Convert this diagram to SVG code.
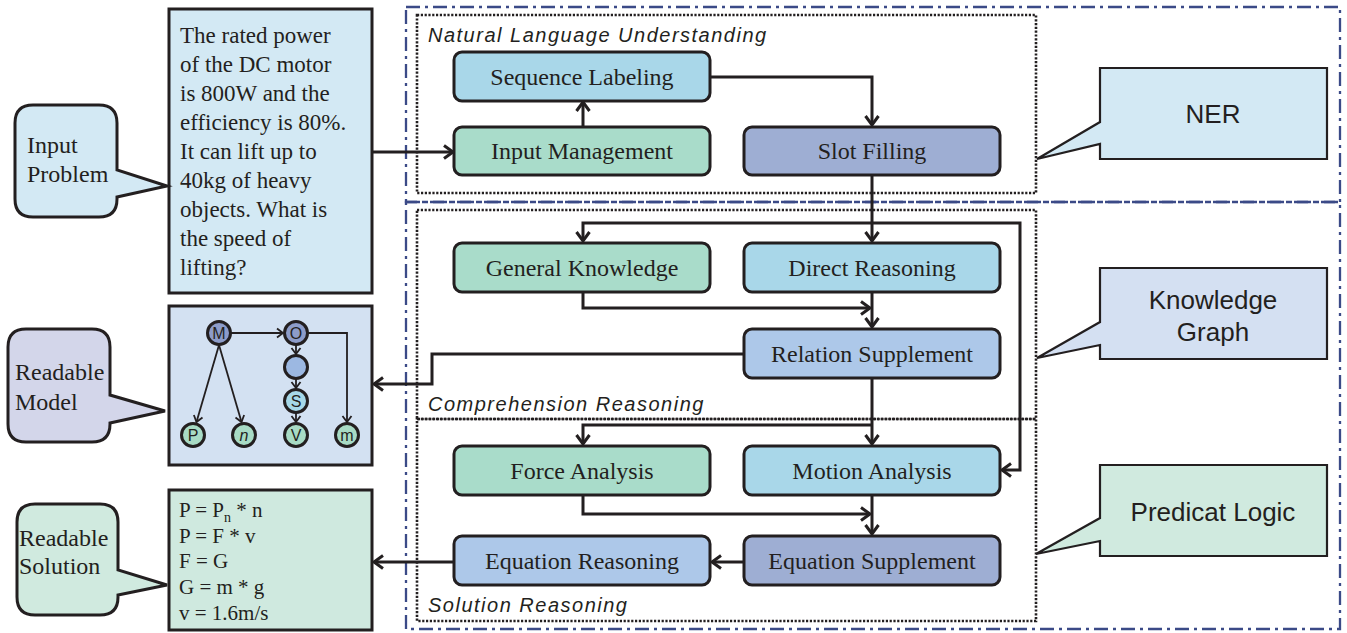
<svg xmlns="http://www.w3.org/2000/svg" width="1347" height="633" viewBox="0 0 1347 633">
<style>
.node rect{stroke:#231f20;stroke-width:3}
.nt{font-family:"Liberation Serif",serif;font-size:24px;fill:#231f20;text-anchor:middle}
.ser{font-family:"Liberation Serif",serif;fill:#231f20}
.lbl{font-family:"Liberation Sans",sans-serif;font-style:italic;font-size:20px;letter-spacing:1.5px;fill:#231f20}
.rc{font-family:"Liberation Sans",sans-serif;font-size:26px;fill:#231f20;text-anchor:middle}
.co{stroke:#231f20;stroke-width:3}
.cor{stroke:#231f20;stroke-width:2.2}
.con path{fill:none;stroke:#231f20;stroke-width:3;marker-end:url(#arr)}
.g line,.g path{fill:none;stroke:#231f20;stroke-width:1.8}
.g circle{stroke:#231f20;stroke-width:3}
.gt{font-family:"Liberation Sans",sans-serif;font-size:16px;fill:#231f20;text-anchor:middle}
.green{fill:#a9dcca}.lblue{fill:#a9d7e9}.slate{fill:#9eaed3}.peri{fill:#adc8e9}
</style>
<defs>
<marker id="arr" markerUnits="userSpaceOnUse" viewBox="-12 -8 14 16" refX="0" refY="0" markerWidth="14" markerHeight="16" orient="auto" overflow="visible"><path d="M-9,-6.5 L0,0 L-9,6.5" fill="none" stroke="#231f20" stroke-width="3"/></marker>
<marker id="sarr" markerUnits="userSpaceOnUse" viewBox="-8 -6 10 12" refX="0" refY="0" markerWidth="10" markerHeight="12" orient="auto" overflow="visible"><path d="M-6,-4.5 L0,0 L-6,4.5" fill="none" stroke="#231f20" stroke-width="1.8"/></marker>
</defs>
<rect width="1347" height="633" fill="#fff"/>

<!-- section frames -->
<g id="frames" fill="none">
<rect x="406" y="7" width="934" height="195" stroke="#3b4a87" stroke-width="2.3" stroke-dasharray="14,5,3,5"/>
<rect x="406" y="202" width="934" height="427" stroke="#3b4a87" stroke-width="2.3" stroke-dasharray="14,5,3,5"/>
<rect x="417" y="15" width="619" height="178" stroke="#231f20" stroke-width="2.6" stroke-dasharray="2.2,1.6"/>
<rect x="417" y="210" width="619" height="209" stroke="#231f20" stroke-width="2.6" stroke-dasharray="2.2,1.6"/>
<rect x="417" y="419" width="619" height="202" stroke="#231f20" stroke-width="2.6" stroke-dasharray="2.2,1.6"/>
<text class="lbl" x="428" y="42">Natural Language Understanding</text>
<text class="lbl" x="428" y="411">Comprehension Reasoning</text>
<text class="lbl" x="428" y="612">Solution Reasoning</text>
</g>

<!-- connectors -->
<g id="connectors" class="con">
<path d="M372,152 H453"/>
<path d="M583,127 V102"/>
<path d="M710,77 H872 V125"/>
<path d="M872,175 V241"/>
<path d="M872,223 H583 V241"/>
<path d="M872,223 H1020 V470 H1002"/>
<path d="M872,292 V327"/>
<path d="M583,292 V308 H870"/>
<path d="M744,354 H432 V384 H374"/>
<path d="M872,378 V444"/>
<path d="M872,425 H583 V444"/>
<path d="M583,495 V514 H870"/>
<path d="M872,495 V534"/>
<path d="M744,562 H712"/>
<path d="M454,562 H374"/>
</g>

<!-- nodes -->
<g id="seq-labeling" class="node"><rect class="lblue" x="454" y="52" width="256" height="49" rx="8"/><text class="nt" x="582" y="85">Sequence Labeling</text></g>
<g id="input-management" class="node"><rect class="green" x="454" y="127" width="256" height="48" rx="8"/><text class="nt" x="582" y="159">Input Management</text></g>
<g id="slot-filling" class="node"><rect class="slate" x="744" y="127" width="256" height="48" rx="8"/><text class="nt" x="872" y="159">Slot Filling</text></g>
<g id="general-knowledge" class="node"><rect class="green" x="454" y="243" width="256" height="49" rx="8"/><text class="nt" x="582" y="276">General Knowledge</text></g>
<g id="direct-reasoning" class="node"><rect class="lblue" x="744" y="243" width="256" height="49" rx="8"/><text class="nt" x="872" y="276">Direct Reasoning</text></g>
<g id="relation-supplement" class="node"><rect class="peri" x="744" y="329" width="256" height="49" rx="8"/><text class="nt" x="872" y="362">Relation Supplement</text></g>
<g id="force-analysis" class="node"><rect class="green" x="454" y="446" width="256" height="49" rx="8"/><text class="nt" x="582" y="479">Force Analysis</text></g>
<g id="motion-analysis" class="node"><rect class="lblue" x="744" y="446" width="256" height="49" rx="8"/><text class="nt" x="872" y="479">Motion Analysis</text></g>
<g id="equation-reasoning" class="node"><rect class="peri" x="454" y="536" width="256" height="49" rx="8"/><text class="nt" x="582" y="569">Equation Reasoning</text></g>
<g id="equation-supplement" class="node"><rect class="slate" x="744" y="536" width="256" height="49" rx="8"/><text class="nt" x="872" y="569">Equation Supplement</text></g>

<!-- input problem -->
<g id="input-problem">
<rect x="169" y="9" width="203" height="284" fill="#d3e9f4" stroke="#231f20" stroke-width="3"/>
<g class="ser" font-size="23">
<text x="180" y="43">The rated power</text>
<text x="180" y="72">of the DC motor</text>
<text x="180" y="101">is 800W and the</text>
<text x="180" y="130">efficiency is 80%.</text>
<text x="180" y="159">It can lift up to</text>
<text x="180" y="188">40kg of heavy</text>
<text x="180" y="217">objects. What is</text>
<text x="180" y="246">the speed of</text>
<text x="180" y="275">lifting?</text>
</g>
</g>
<g id="input-problem-callout">
<path class="co" fill="#d3e9f4" d="M33,105 H99 Q117,105 117,123 V170 L167,186 L117,197 V199 Q117,217 99,217 H33 Q15,217 15,199 V123 Q15,105 33,105 Z"/>
<text class="ser" font-size="24" x="27" y="153">Input</text>
<text class="ser" font-size="24" x="27" y="182">Problem</text>
</g>

<!-- readable model -->
<g id="readable-model">
<rect x="169" y="306" width="203" height="159" fill="#d3e1f2" stroke="#231f20" stroke-width="3"/>
<g class="g">
<path d="M231,333 H283" marker-end="url(#sarr)"/>
<path d="M308,333 H347 V422" marker-end="url(#sarr)"/>
<path d="M219,345 L196.5,422" marker-end="url(#sarr)"/>
<path d="M219,345 L241.5,422" marker-end="url(#sarr)"/>
<path d="M296,345 V354" marker-end="url(#sarr)"/>
<path d="M296,379 V388" marker-end="url(#sarr)"/>
<path d="M296,413 V422" marker-end="url(#sarr)"/>
<circle cx="219" cy="333" r="11.5" fill="#8d9cc9"/>
<circle cx="296" cy="333" r="11.5" fill="#8d9cc9"/>
<circle cx="296" cy="367" r="11.5" fill="#9cb8e2"/>
<circle cx="296" cy="401" r="11.5" fill="#a6d8e8"/>
<circle cx="193" cy="435" r="11.5" fill="#a8dbc5"/>
<circle cx="244" cy="435" r="11.5" fill="#a8dbc5"/>
<circle cx="296" cy="435" r="11.5" fill="#a8dbc5"/>
<circle cx="347" cy="435" r="11.5" fill="#a8dbc5"/>
</g>
<text class="gt" x="219" y="339">M</text>
<text class="gt" x="296" y="339">O</text>
<text class="gt" x="296" y="407">S</text>
<text class="gt" x="193" y="441">P</text>
<text class="gt" x="244" y="441" font-style="italic">n</text>
<text class="gt" x="296" y="441">V</text>
<text class="gt" x="347" y="441">m</text>
</g>
<g id="readable-model-callout">
<path class="co" fill="#d3d6ea" d="M26,329 H92 Q110,329 110,347 V395 L165,411 L110,423 V424 Q110,442 92,442 H26 Q8,442 8,424 V347 Q8,329 26,329 Z"/>
<text class="ser" font-size="24" x="15" y="380">Readable</text>
<text class="ser" font-size="24" x="15" y="410">Model</text>
</g>

<!-- readable solution -->
<g id="readable-solution">
<rect x="169" y="490" width="203" height="140" fill="#cfe9df" stroke="#231f20" stroke-width="3"/>
<g class="ser" font-size="21">
<text x="179" y="517">P = P<tspan font-size="14" dy="5">n</tspan><tspan dy="-5"> * n</tspan></text>
<text x="179" y="543">P = F * v</text>
<text x="179" y="568">F = G</text>
<text x="179" y="594">G = m * g</text>
<text x="179" y="620">v = 1.6m/s</text>
</g>
</g>
<g id="readable-solution-callout">
<path class="co" fill="#d0eadf" d="M35,504 H100 Q118,504 118,522 V570 L167,585 L118,595 V597 Q118,615 100,615 H35 Q17,615 17,597 V522 Q17,504 35,504 Z"/>
<text class="ser" font-size="24" x="19" y="546">Readable</text>
<text class="ser" font-size="24" x="19" y="574">Solution</text>
</g>

<!-- right callouts -->
<g id="ner-callout">
<path class="cor" fill="#d3e9f4" d="M1100,68 H1327 V159 H1100 V144 L1037,159 L1100,122 Z"/>
<text class="rc" x="1213" y="123">NER</text>
</g>
<g id="kg-callout">
<path class="cor" fill="#d4e0f2" d="M1100,268 H1327 V359 H1100 V345 L1037,358 L1100,322 Z"/>
<text class="rc" x="1213" y="309">Knowledge</text>
<text class="rc" x="1213" y="341">Graph</text>
</g>
<g id="pl-callout">
<path class="cor" fill="#d0eadf" d="M1100,465 H1327 V556 H1100 V541 L1036,554 L1100,518 Z"/>
<text class="rc" x="1213" y="521">Predicat Logic</text>
</g>
</svg>
